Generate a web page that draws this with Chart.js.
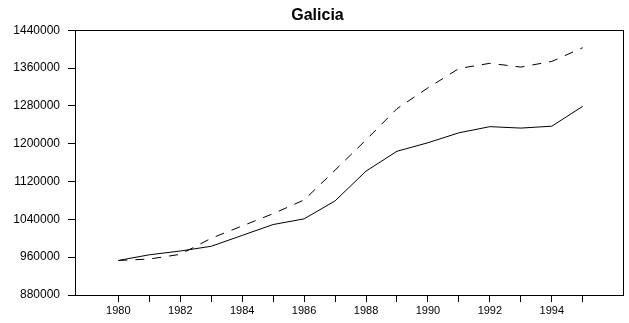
<!DOCTYPE html>
<html>
<head>
<meta charset="utf-8">
<script src="https://cdn.jsdelivr.net/npm/chart.js@4/dist/chart.umd.min.js"></script>
<style>
    html, body { margin: 0; padding: 0; background: #fff; }
    #wrap { width: 629px; height: 323px; }
</style>
</head>
<body>
<div id="wrap"><canvas id="chart"></canvas></div>
<script>
// dados
const anos = [1980, 1981, 1982, 1983, 1984, 1985, 1986, 1987, 1988, 1989, 1990, 1991, 1992, 1993, 1994, 1995];
const serieContinua = [953000, 965000, 973000, 983000, 1006000, 1029000, 1041000, 1079000, 1142000, 1184000, 1202000, 1223000, 1236000, 1233000, 1237000, 1279000];
const serieTracejada = [953000, 956000, 966000, 1000000, 1026000, 1052000, 1081000, 1144000, 1208000, 1274000, 1318000, 1359000, 1370000, 1362000, 1374000, 1403000];
const yTicks = [880000, 960000, 1040000, 1120000, 1200000, 1280000, 1360000, 1440000];

// moldura em volta da área do gráfico
const frame = {
    id: 'frame',
    afterDraw(chart) {
        const a = chart.chartArea;
        const ctx = chart.ctx;
        ctx.save();
        ctx.strokeStyle = '#000';
        ctx.lineWidth = 1;
        ctx.strokeRect(Math.round(a.left) + 0.5, Math.round(a.top) + 0.5, Math.round(a.right - a.left), Math.round(a.bottom - a.top));
        ctx.restore();
    }
};

const pontos = (vals) => anos.map((a, i) => ({ x: a, y: vals[i] }));

new Chart(document.getElementById('chart'), {
    type: 'line',
    data: {
        datasets: [
            {
                label: 'serie 1',
                data: pontos(serieContinua),
                borderColor: '#000',
                borderWidth: 1,
                pointRadius: 0,
                tension: 0
            },
            {
                label: 'serie 2',
                data: pontos(serieTracejada),
                borderColor: '#000',
                borderWidth: 1,
                borderDash: [9, 8],
                pointRadius: 0,
                tension: 0
            }
        ]
    },
    options: {
        responsive: true,
        maintainAspectRatio: false,
        animation: false,
        layout: { padding: { left: 12, right: 6, top: 0, bottom: 0 } },
        plugins: {
            legend: { display: false },
            tooltip: { enabled: false },
            title: {
                display: true,
                text: 'Galicia',
                color: '#000',
                font: { family: 'Liberation Sans, Arial, sans-serif', size: 16, weight: 'bold' },
                padding: { top: 6, bottom: 5 }
            }
        },
        scales: {
            x: {
                type: 'linear',
                min: 1978.6,
                max: 1996.3,
                afterBuildTicks: (scale) => { scale.ticks = anos.map(v => ({ value: v })); },
                afterFit: (scale) => { scale.height = 28; },
                grid: { drawOnChartArea: false, drawTicks: true, tickLength: 7, color: '#000' },
                border: { display: true, color: '#000' },
                ticks: {
                    color: '#000',
                    padding: 2,
                    maxRotation: 0,
                    autoSkip: false,
                    font: { family: 'Liberation Sans, Arial, sans-serif', size: 11 },
                    callback: (v) => (v % 2 === 0 ? String(v) : '')
                }
            },
            y: {
                min: 880000,
                max: 1440000,
                afterBuildTicks: (scale) => { scale.ticks = yTicks.map(v => ({ value: v })); },
                afterFit: (scale) => { scale.width = 63; },
                grid: { drawOnChartArea: false, drawTicks: true, tickLength: 7, color: '#000' },
                border: { display: true, color: '#000' },
                ticks: {
                    color: '#000',
                    padding: 8,
                    font: { family: 'Liberation Sans, Arial, sans-serif', size: 12 },
                    callback: (v) => String(v)
                }
            }
        }
    },
    plugins: [frame]
});
</script>
</body>
</html>
